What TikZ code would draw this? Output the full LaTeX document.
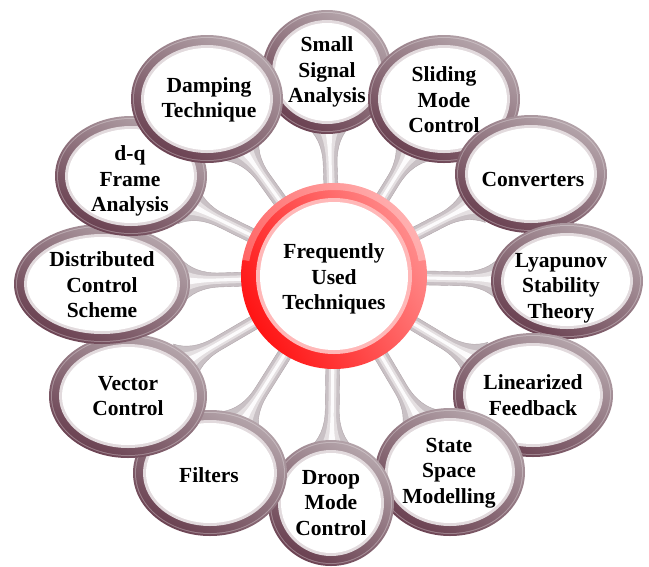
\documentclass[tikz,border=0pt]{standalone}
\usepackage{fontspec}
\setmainfont{Liberation Serif}
\usetikzlibrary{calc}
\definecolor{ringdark}{HTML}{6B4252}
\definecolor{ringlight}{HTML}{B3A3A9}
\definecolor{bevelc}{HTML}{E2DADD}
\definecolor{spokec}{HTML}{C9C1C5}
\definecolor{spokemidc}{HTML}{E4DFE1}
\definecolor{spokeedge}{HTML}{B0A5AA}
\definecolor{redA}{HTML}{FF1414}
\definecolor{redB}{HTML}{FF8E8E}
\definecolor{pinkband}{HTML}{FFB8B8}
\tikzset{
  ringshade/.style={top color=ringlight, bottom color=ringdark, shading angle=-30},
  redshade/.style={top color=redB, bottom color=redA, shading angle=-60},
  spokestyle/.style={fill=spokec, draw=spokeedge, line width=0.4pt},
  spokemid/.style={fill=spokemidc},
  spoketop/.style={fill=white, opacity=0.9},
  lbl/.style={font=\fontsize{21.5}{25.5}\selectfont\bfseries, align=center, inner sep=0pt, text=black},
}
\newcommand{\bub}[5]{%
  \coordinate (#1) at (#2,#3);
  \path[ringshade] (#1) ellipse [x radius=#4, y radius=#5];
  \fill[white, opacity=0.3] (#1) ellipse [x radius=#4-2, y radius=#5-2];
  \path[ringshade] (#1) ellipse [x radius=#4-3, y radius=#5-3];
  \fill[bevelc] (#1) ellipse [x radius=#4-10, y radius=#5-10];
  \fill[white] (#1) ellipse [x radius=#4-13, y radius=#5-13];
}
% spoke outline: #1 style, #2 target, #3 boundary distance, #4 width factor
\newcommand{\spkpath}[4]{%
  \pgfmathsetmacro\spa{80}%
  \pgfmathsetmacro\spb{#3-30}%
  \pgfmathsetmacro\spc{#3-12}%
  \pgfmathsetmacro\spd{#3+8}%
  \pgfmathsetmacro\wa{7*#4}%
  \pgfmathsetmacro\wb{13*#4}%
  \pgfmathsetmacro\wc{22*#4}%
  \path[#1] ($(hub)!\spa pt!(#2)!\wa pt!90:(#2)$) -- ($(hub)!\spb pt!(#2)!\wa pt!90:(#2)$)
    .. controls ($(hub)!\spc pt!(#2)!\wa pt!90:(#2)$) and ($(hub)!#3pt!(#2)!\wb pt!90:(#2)$)
    .. ($(hub)!\spd pt!(#2)!\wc pt!90:(#2)$)
    -- ($(hub)!\spd pt!(#2)!\wc pt!-90:(#2)$)
    .. controls ($(hub)!#3pt!(#2)!\wb pt!-90:(#2)$) and ($(hub)!\spc pt!(#2)!\wa pt!-90:(#2)$)
    .. ($(hub)!\spb pt!(#2)!\wa pt!-90:(#2)$) -- ($(hub)!\spa pt!(#2)!\wa pt!-90:(#2)$) -- cycle;
}
\newcommand{\spk}[2]{%
  \spkpath{spokestyle}{#1}{#2}{1}%
  \spkpath{spokemid}{#1}{#2}{0.55}%
  \spkpath{spoketop}{#1}{#2}{0.22}%
}
\begin{document}
\begin{tikzpicture}[x=1pt, y=-1pt]
\useasboundingbox (0,0) rectangle (649,566);
\fill[white] (0,0) rectangle (649,566);
\coordinate (hub) at (334,276);
% ellipse centres
\coordinate (ss) at (327,72);
\coordinate (sm) at (444,99);
\coordinate (cv) at (531,174);
\coordinate (ly) at (567,281);
\coordinate (lf) at (533,395);
\coordinate (st) at (450,472);
\coordinate (dr) at (331,503);
\coordinate (fi) at (210,473);
\coordinate (vc) at (128,396);
\coordinate (di) at (102,284);
\coordinate (dq) at (131,176);
\coordinate (da) at (207,99);
% spokes
\spk{ss}{142}
\spk{sm}{142}
\spk{cv}{151}
\spk{ly}{157}
\spk{lf}{158}
\spk{st}{161}
\spk{dr}{164}
\spk{fi}{166}
\spk{vc}{165}
\spk{di}{144}
\spk{dq}{155}
\spk{da}{150}
% central circle
\path[redshade] (hub) circle [radius=93];
\fill[white, opacity=0.3] ($(hub)+(190:93)$) arc [start angle=190, end angle=350, radius=93]
  -- ($(hub)+(350:86)$) arc [start angle=350, end angle=190, radius=86] -- cycle;
\fill[pinkband] (hub) circle [radius=78];
\fill[white] (hub) circle [radius=74];
% bubbles
\bub{ss1}{327}{72}{65}{62}
\bub{sm1}{444}{99}{76}{64}
\bub{cv1}{531}{174}{76}{59}
\bub{ly1}{567}{281}{76}{58}
\bub{lf1}{533}{395}{80}{62}
\bub{st1}{450}{472}{75}{64}
\bub{dr1}{331}{503}{63}{63}
\bub{fi1}{210}{473}{77}{63}
\bub{vc1}{128}{396}{79}{62}
\bub{di1}{102}{284}{88}{60}
\bub{dq1}{131}{176}{76}{60}
\bub{da1}{207}{99}{76}{64}
% labels
\node[lbl] (tc) at (334,279) {Frequently\\Used\\Techniques};
\node[lbl] (tss) at (327,72) {Small\\Signal\\Analysis};
\node[lbl] (tsm) at (444,100) {Sliding\\Mode\\Control};
\node[lbl] (tcv) at (533,179) {Converters};
\node[lbl] (tly) at (561,288) {Lyapunov\\Stability\\Theory};
\node[lbl] (tlf) at (533,395) {Linearized\\Feedback};
\node[lbl] (tst) at (449,473) {State\\Space\\Modelling};
\node[lbl] (tdr) at (331,503) {Droop\\Mode\\Control};
\node[lbl] (tfi) at (209,475) {Filters};
\node[lbl] (tvc) at (128,396) {Vector\\Control};
\node[lbl] (tdi) at (102,285) {Distributed\\Control\\Scheme};
\node[lbl] (tdq) at (130,181) {d-q\\Frame\\Analysis};
\node[lbl] (tda) at (209,100) {Damping\\Technique};
\end{tikzpicture}
\end{document}
